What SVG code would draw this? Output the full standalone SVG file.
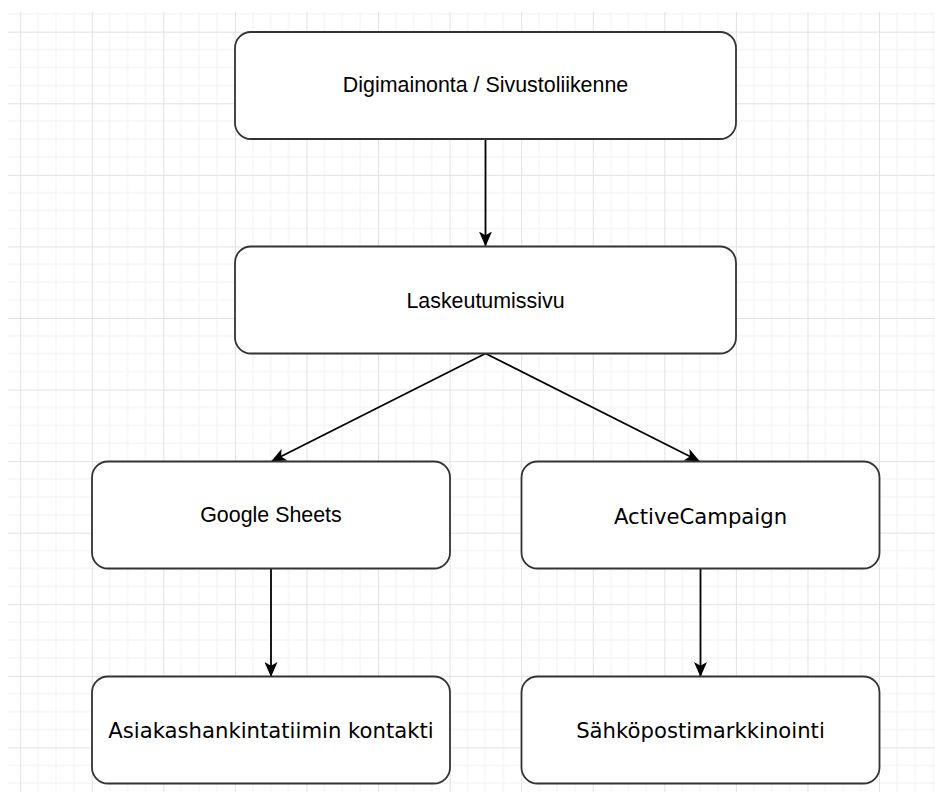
<svg xmlns="http://www.w3.org/2000/svg" width="935" height="792" viewBox="0 0 935 792">
  <style>
    .box { fill: #ffffff; stroke: #333333; stroke-width: 1.8; }
    .lblA { font-family: "Liberation Sans", Arial, sans-serif; font-size: 21.4px; fill: #000000; text-anchor: middle; }
    .lblB { font-family: "DejaVu Sans", Verdana, sans-serif; font-size: 21.2px; fill: #000000; text-anchor: middle; }
    .edge { fill: none; stroke: #000000; stroke-width: 1.8; marker-end: url(#arrow); }
  </style>
  <defs>
    <pattern id="grid" patternUnits="userSpaceOnUse" x="20.2" y="31.7" width="71.57" height="71.57">
      <path d="M17.89 0V71.57M35.78 0V71.57M53.68 0V71.57M0 17.89H71.57M0 35.78H71.57M0 53.68H71.57" stroke="#f2f2f2" stroke-width="1" fill="none"/>
      <path d="M0.5 0V71.57M0 0.5H71.57" stroke="#e2e2e2" stroke-width="1" fill="none"/>
    </pattern>
    <marker id="arrow" markerUnits="userSpaceOnUse" viewBox="0 0 15 13" refX="14" refY="6.5" markerWidth="15" markerHeight="13" orient="auto">
      <path d="M0,0 L15,6.5 L0,13 L3.8,6.5 Z" fill="#000000"/>
    </marker>
  </defs>
  <rect x="0" y="0" width="935" height="792" fill="#ffffff"/>
  <rect x="8" y="12" width="927" height="780" fill="url(#grid)"/>

  <g id="connectors">
    <line class="edge" x1="485.5" y1="139" x2="485.5" y2="245.5"/>
    <line class="edge" x1="485.5" y1="353.5" x2="272" y2="461"/>
    <line class="edge" x1="485.5" y1="353.5" x2="699" y2="461"/>
    <line class="edge" x1="271" y1="568.5" x2="271" y2="676"/>
    <line class="edge" x1="700.5" y1="568.5" x2="700.5" y2="676"/>
  </g>

  <g id="node-digimainonta">
    <rect class="box" x="235" y="32" width="501" height="107" rx="16" ry="16"/>
    <text class="lblA" x="485.5" y="92">Digimainonta / Sivustoliikenne</text>
  </g>
  <g id="node-laskeutumissivu">
    <rect class="box" x="235" y="246.5" width="501" height="107" rx="16" ry="16"/>
    <text class="lblA" x="485.5" y="308">Laskeutumissivu</text>
  </g>
  <g id="node-google-sheets">
    <rect class="box" x="92" y="461.5" width="358" height="107" rx="16" ry="16"/>
    <text class="lblA" x="271" y="522">Google Sheets</text>
  </g>
  <g id="node-activecampaign">
    <rect class="box" x="521.5" y="461.5" width="358" height="107" rx="16" ry="16"/>
    <text class="lblB" x="700.5" y="523.5">ActiveCampaign</text>
  </g>
  <g id="node-asiakashankinta">
    <rect class="box" x="92" y="676.5" width="358" height="107" rx="16" ry="16"/>
    <text class="lblB" x="271" y="738">Asiakashankintatiimin kontakti</text>
  </g>
  <g id="node-sahkoposti">
    <rect class="box" x="521.5" y="676.5" width="358" height="107" rx="16" ry="16"/>
    <text class="lblB" x="700.5" y="738">Sähköpostimarkkinointi</text>
  </g>
</svg>
